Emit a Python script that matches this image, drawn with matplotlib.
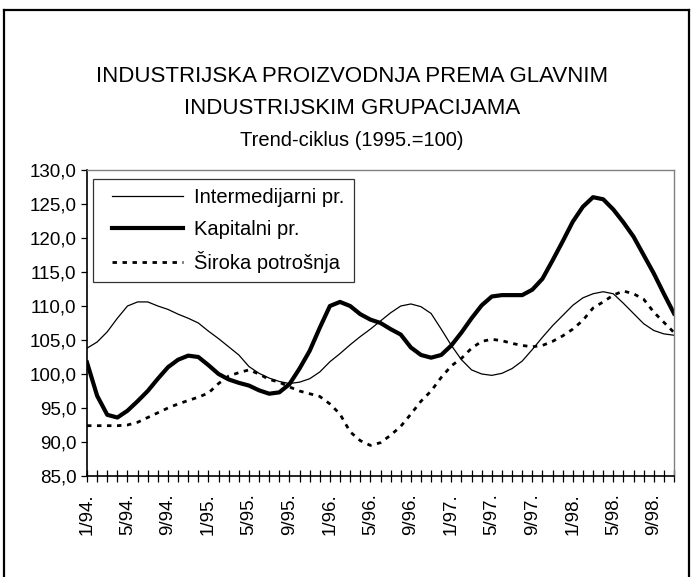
import matplotlib
matplotlib.use("Agg")
import matplotlib.pyplot as plt
from matplotlib.ticker import FixedLocator, FuncFormatter
from matplotlib.lines import Line2D
from matplotlib.legend_handler import HandlerLine2D

plt.rcParams['font.family'] = ['Liberation Sans', 'DejaVu Sans']

# Months 1/94 .. 11/98
years = [94, 95, 96, 97, 98]
months = [f"{m}/{y}." for y in years for m in range(1, 13)][:59]

intermedijarni = [103.8, 104.7, 106.2, 108.2, 110.0, 110.6, 110.6, 110.0, 109.5, 108.8,
                  108.2, 107.5, 106.3, 105.2, 104.0, 102.8, 101.1, 100.1, 99.4, 98.9,
                  98.6, 98.8, 99.3, 100.3, 101.8, 103.0, 104.3, 105.5, 106.6, 107.8,
                  109.0, 110.0, 110.3, 109.9, 108.9, 106.6, 104.2, 102.1, 100.6, 100.0,
                  99.8, 100.1, 100.8, 101.9, 103.6, 105.4, 107.1, 108.6, 110.1, 111.2,
                  111.8, 112.1, 111.8, 110.4, 108.9, 107.4, 106.4, 105.9, 105.7]

kapitalni = [101.7, 96.8, 94.0, 93.6, 94.6, 96.0, 97.5, 99.3, 101.0, 102.1,
             102.7, 102.5, 101.3, 100.0, 99.2, 98.7, 98.3, 97.6, 97.1, 97.3,
             98.5, 100.8, 103.4, 106.8, 110.0, 110.6, 110.0, 108.8, 108.0, 107.5,
             106.6, 105.8, 103.9, 102.8, 102.4, 102.8, 104.2, 106.1, 108.2, 110.1,
             111.4, 111.6, 111.6, 111.6, 112.4, 114.0, 116.7, 119.5, 122.4, 124.6,
             126.0, 125.7, 124.2, 122.3, 120.2, 117.5, 114.8, 111.8, 108.9]

siroka = [92.4, 92.4, 92.4, 92.4, 92.5, 92.9, 93.6, 94.3, 95.0, 95.6,
          96.1, 96.6, 97.2, 98.6, 99.7, 100.2, 100.6, 100.0, 99.2, 98.8,
          98.1, 97.5, 97.1, 96.7, 95.6, 94.1, 91.5, 90.2, 89.5, 89.9,
          91.0, 92.3, 94.1, 96.0, 97.5, 99.5, 101.2, 102.3, 103.8, 104.8,
          105.1, 104.9, 104.5, 104.2, 104.0, 104.2, 104.8, 105.6, 106.6, 107.9,
          109.7, 110.6, 111.6, 112.2, 111.8, 111.0, 109.1, 107.6, 106.1]

labels = ["Intermedijarni pr.", "Kapitalni pr.", "Široka potrošnja"]
title_line1 = "INDUSTRIJSKA PROIZVODNJA PREMA GLAVNIM"
title_line2 = "INDUSTRIJSKIM GRUPACIJAMA"
subtitle = "Trend-ciklus (1995.=100)"
yticks = [85, 90, 95, 100, 105, 110, 115, 120, 125, 130]


class ShiftedLineHandler(HandlerLine2D):
    """Line handle that starts a bit to the right inside its box."""
    def __init__(self, shift=0.0, **kw):
        super().__init__(**kw)
        self.shift = shift

    def create_artists(self, legend, orig_handle, xdescent, ydescent, width,
                       height, fontsize, trans):
        s = self.shift * fontsize
        return super().create_artists(legend, orig_handle, xdescent - s, ydescent,
                                      width - s, height, fontsize, trans)


W, H = 691, 577
fig = plt.figure(figsize=(W / 100, H / 100), dpi=100)
ax = fig.add_axes([87 / W, 1 - 476 / H, (674 - 87) / W, (476 - 170) / H])

x = list(range(len(months)))
l1, = ax.plot(x, intermedijarni, color='black', lw=0.9, solid_joinstyle='round')
l2, = ax.plot(x, kapitalni, color='black', lw=3.0, solid_joinstyle='round')
l3, = ax.plot(x, siroka, color='black', lw=2.0, dashes=(1.6, 2.0))

ax.set_xlim(0, len(months) - 1)
ax.set_ylim(85, 130)
ax.yaxis.set_major_locator(FixedLocator(yticks))
ax.yaxis.set_major_formatter(FuncFormatter(lambda v, p: f"{v:.1f}".replace('.', ',')))
ax.set_xticks(x)
ax.set_xticklabels([m if i % 4 == 0 else "" for i, m in enumerate(months)],
                   rotation=90, fontsize=13.5)
ax.tick_params(axis='x', direction='inout', length=9, width=0.9, pad=8)
ax.tick_params(axis='y', direction='out', length=4.5, width=0.9, labelsize=13.5, pad=3)

for s in ['left', 'bottom']:
    ax.spines[s].set_color('black')
    ax.spines[s].set_linewidth(1.2)
for s in ['top', 'right']:
    ax.spines[s].set_color('#808080')
    ax.spines[s].set_linewidth(1.0)

handler = ShiftedLineHandler(shift=0.5)
leg = ax.legend([l1, l2, l3], labels, loc='upper left',
                bbox_to_anchor=((93 - 87) / (674 - 87), 1 - (179 - 170) / (476 - 170)),
                fontsize=14.5, frameon=True, fancybox=False, handlelength=4.03,
                handletextpad=0.55, labelspacing=0.62, borderpad=0.45, borderaxespad=0,
                handler_map={l1: handler, l2: handler, l3: handler})
leg.get_frame().set_edgecolor('black')
leg.get_frame().set_linewidth(0.9)

fig.text(352 / W, 1 - 77 / H, title_line1, ha='center', va='center', fontsize=16)
fig.text(352 / W, 1 - 108 / H, title_line2, ha='center', va='center', fontsize=16)
fig.text(352 / W, 1 - 140 / H, subtitle, ha='center', va='center', fontsize=14.5)

# outer frame
fig.add_artist(Line2D([4 / W, 4 / W], [0, 1 - 10 / H], transform=fig.transFigure,
                      color='black', lw=1.6))
fig.add_artist(Line2D([4 / W, 689 / W], [1 - 10 / H, 1 - 10 / H], transform=fig.transFigure,
                      color='black', lw=1.6))
fig.add_artist(Line2D([689 / W, 689 / W], [0, 1 - 10 / H], transform=fig.transFigure,
                      color='black', lw=1.6))

fig.savefig("out.png", dpi=100)
